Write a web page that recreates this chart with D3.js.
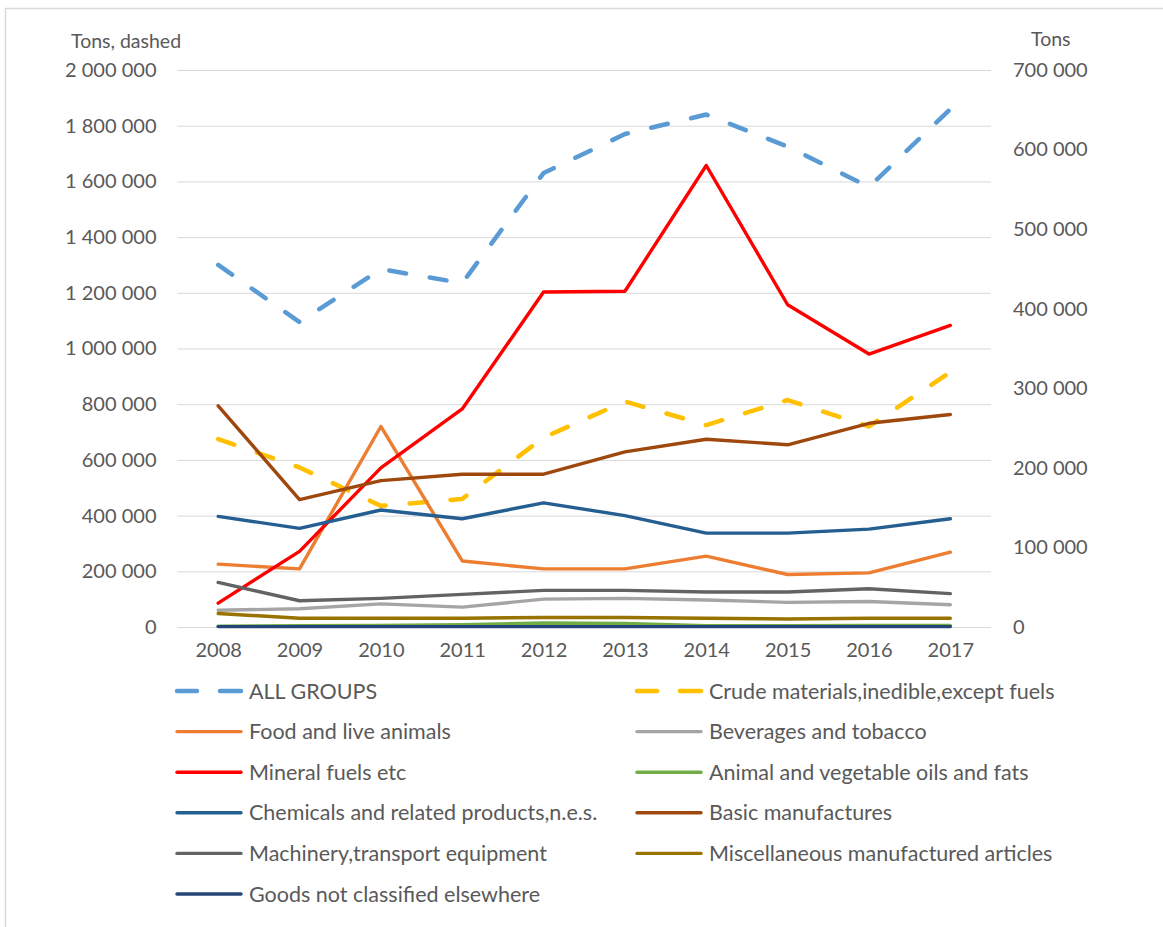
<!DOCTYPE html>
<html><head><meta charset="utf-8">
<script src="https://cdn.jsdelivr.net/npm/d3@7"></script>
<style>
html,body{margin:0;padding:0;background:#fff;}
svg text{font-family:Lato,"Open Sans",sans-serif;fill:#595959;}
</style></head>
<body><svg id="c" width="1163" height="927"></svg>
<script>
const years = ["2008","2009","2010","2011","2012","2013","2014","2015","2016","2017"];
const leftTicks = [0,200000,400000,600000,800000,1000000,1200000,1400000,1600000,1800000,2000000];
const rightTicks = [0,100000,200000,300000,400000,500000,600000,700000];

// dashed series, left axis
const allGroups = [1300000,1095000,1285000,1235000,1630000,1770000,1840000,1725000,1580000,1860000];
const crudeMaterials = [675000,573000,435000,460000,680000,810000,725000,815000,720000,915000];
// solid series, right axis
const foodLive = [79000,73000,252000,83000,73000,73000,89000,66000,68000,94000];
const beverages = [21000,23000,29000,25000,35000,36000,34000,31000,32000,28000];
const mineralFuels = [30000,95000,200000,274000,421000,422000,580000,405000,343000,379000];
const oilsFats = [1000,1500,2000,3000,5000,4500,1500,1500,2000,2000];
const chemicals = [139000,124000,147000,136000,156000,140000,118000,118000,123000,136000];
const basicManuf = [278000,160000,184000,192000,192000,220000,236000,229000,256000,267000];
const machinery = [56000,33000,36000,41000,46000,46000,44000,44000,48000,42000];
const miscManuf = [17000,11000,11000,11000,12000,12000,11000,10000,11000,11000];
const goodsNotClass = [500,500,500,500,500,500,500,500,500,500];

const series = [
  {name:"ALL GROUPS", values:allGroups, color:"#5B9BD5", axis:"left", dashed:true},
  {name:"Crude materials,inedible,except fuels", values:crudeMaterials, color:"#FFC000", axis:"left", dashed:true},
  {name:"Food and live animals", values:foodLive, color:"#ED7D31", axis:"right"},
  {name:"Beverages and tobacco", values:beverages, color:"#A5A5A5", axis:"right"},
  {name:"Mineral fuels etc", values:mineralFuels, color:"#FF0000", axis:"right"},
  {name:"Animal and vegetable oils and fats", values:oilsFats, color:"#70AD47", axis:"right"},
  {name:"Chemicals and related products,n.e.s.", values:chemicals, color:"#255E91", axis:"right"},
  {name:"Basic manufactures", values:basicManuf, color:"#9E480E", axis:"right"},
  {name:"Machinery,transport equipment", values:machinery, color:"#636363", axis:"right"},
  {name:"Miscellaneous manufactured articles", values:miscManuf, color:"#997300", axis:"right"},
  {name:"Goods not classified elsewhere", values:goodsNotClass, color:"#264478", axis:"right"}
];

const svg = d3.select("#c");
const L = 177.5, R = 991, T = 70, B = 627;

// frame
svg.append("rect").attr("x",5.5).attr("y",8.5).attr("width",1170).attr("height",940)
  .attr("fill","none").attr("stroke","#D9D9D9").attr("stroke-width",1.5);

const x = d3.scalePoint().domain(years).range([L,R]).padding(0.5);
const yL = d3.scaleLinear().domain([0,2000000]).range([B,T]);
const yR = d3.scaleLinear().domain([0,700000]).range([B,T]);

const fmt = d3.formatLocale({decimal:".",thousands:"\u2009",grouping:[3],currency:["",""]}).format(",");
const fmtS = v => fmt(v).replace(/\u2009/g," ");

// gridlines
const grid = svg.append("g").attr("transform",`translate(${L},0)`)
  .call(d3.axisLeft(yL).tickValues(leftTicks).tickSize(-(R-L)).tickFormat(""));
grid.select(".domain").remove();
grid.selectAll("line").attr("stroke","#D9D9D9").attr("stroke-width",1);

// left axis labels
const ax1 = svg.append("g").attr("transform",`translate(${L},0)`)
  .call(d3.axisLeft(yL).tickValues(leftTicks).tickSize(0).tickPadding(21).tickFormat(fmtS));
ax1.select(".domain").remove();
ax1.selectAll("text").attr("font-size",20).attr("font-family","Lato").attr("fill","#595959");

// right axis labels
const ax2 = svg.append("g").attr("transform",`translate(${R},0)`)
  .call(d3.axisRight(yR).tickValues(rightTicks).tickSize(0).tickPadding(22).tickFormat(fmtS));
ax2.select(".domain").remove();
ax2.selectAll("text").attr("font-size",20).attr("font-family","Lato").attr("fill","#595959");

// x axis labels
const ax3 = svg.append("g").attr("transform",`translate(0,${B})`)
  .call(d3.axisBottom(x).tickSize(0).tickPadding(16));
ax3.select(".domain").remove();
ax3.selectAll("text").attr("font-size",20).attr("font-family","Lato").attr("fill","#595959");

// axis titles
svg.append("text").attr("x",71).attr("y",48).attr("font-size",19.5).text("Tons, dashed");
svg.append("text").attr("x",1031).attr("y",46).attr("font-size",19.5).text("Tons");

// lines
const lineL = d3.line().x((d,i)=>x(years[i])).y(d=>yL(d));
const lineR = d3.line().x((d,i)=>x(years[i])).y(d=>yR(d));
const gl = svg.append("g");
series.forEach(s=>{
  const p = gl.append("path").datum(s.values)
    .attr("d", s.axis==="left" ? lineL : lineR)
    .attr("fill","none").attr("stroke",s.color)
    .attr("stroke-linejoin","round");
  if(s.dashed){
    p.attr("stroke-width",4.5).attr("stroke-dasharray","17 24").attr("stroke-linecap","round");
  } else {
    p.attr("stroke-width",3.4).attr("stroke-linecap","round");
  }
});

// legend
const lg = svg.append("g");
const colX = [175, 635];
const rowY0 = 691, rowDY = 40.6;
series.forEach((s,i)=>{
  const col = i%2, row = Math.floor(i/2);
  const gx = colX[col], gy = rowY0 + row*rowDY;
  const g = lg.append("g").attr("transform",`translate(${gx},${gy})`);
  if(s.dashed){
    g.append("line").attr("x1",2).attr("x2",22).attr("y1",0).attr("y2",0)
      .attr("stroke",s.color).attr("stroke-width",4.5).attr("stroke-linecap","round");
    g.append("line").attr("x1",45).attr("x2",66).attr("y1",0).attr("y2",0)
      .attr("stroke",s.color).attr("stroke-width",4.5).attr("stroke-linecap","round");
  } else {
    g.append("line").attr("x1",2).attr("x2",66).attr("y1",0).attr("y2",0)
      .attr("stroke",s.color).attr("stroke-width",3.4).attr("stroke-linecap","round");
  }
  g.append("text").attr("x",74).attr("y",0).attr("dy","0.35em").attr("font-size",21.5).text(s.name);
});
</script></body></html>
